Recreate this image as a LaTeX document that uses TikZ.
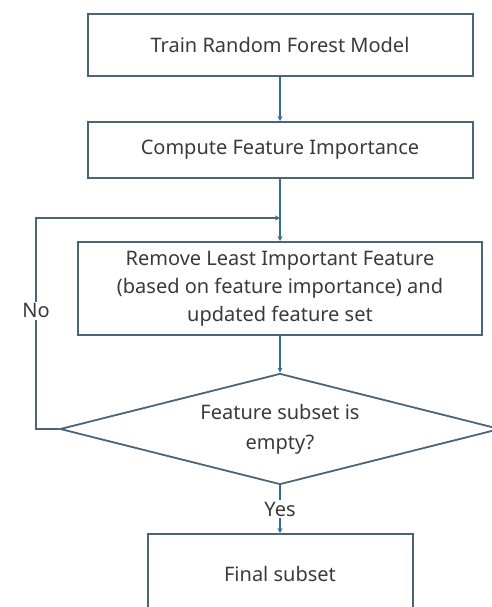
\documentclass[tikz,border=0pt]{standalone}
\usepackage{fontspec}
\setmainfont{Noto Sans}
\usetikzlibrary{arrows.meta,shapes.geometric}
\definecolor{boxline}{HTML}{4D6478}
\definecolor{flowline}{HTML}{2F6F92}
\definecolor{txt}{HTML}{3A3A3A}
\tikzset{
  stepbox/.style={draw=boxline,line width=2pt,rectangle,inner sep=0pt,
    text=txt,align=center,font=\fontsize{20}{28}\selectfont},
  testbox/.style={draw=boxline,line width=1.8pt,diamond,aspect=3.9,inner sep=0pt,
    text=txt,align=center,font=\fontsize{20}{30}\selectfont},
  lbl/.style={fill=white,text=txt,inner sep=2pt,font=\fontsize{20}{24}\selectfont}
}
\begin{document}
\begin{tikzpicture}[x=1pt,y=-1pt]
      \useasboundingbox (0,0) rectangle (491,607);
      \node[stepbox,minimum width=385pt,minimum height=62pt] (train) at (280,45) {Train Random Forest Model};
      \node[stepbox,minimum width=385pt,minimum height=56pt] (imp) at (280,150) {Compute Feature Importance};
      \node[stepbox,minimum width=404pt,minimum height=93pt] (remove) at (280,288.5)
        {Remove Least Important Feature\\(based on feature importance) and\\updated feature set};
      \node[testbox,minimum width=440pt,minimum height=111pt] (empty) at (280,429)
        {Feature subset is\\empty?};
      \node[stepbox,minimum width=265pt,minimum height=80pt] (final) at (280,574) {Final subset};
      \coordinate (join) at (280,218);
      \coordinate (back) at (36,429);
      \begin{scope}[flowline,line width=1.8pt,-{Stealth[length=5pt,width=5pt]}]
        \draw (train) to (imp);
        \draw (imp) to (remove);
        \draw (remove) to (empty);
        \draw[boxline] (empty.west) -- (back) -- node[lbl,pos=0.56] (no) {No} (back |- join) -- (join);
        \draw (empty.south) -- node[lbl,pos=0.5] (yes) {Yes} (final.north);
      \end{scope}
    \end{tikzpicture}
\end{document}
